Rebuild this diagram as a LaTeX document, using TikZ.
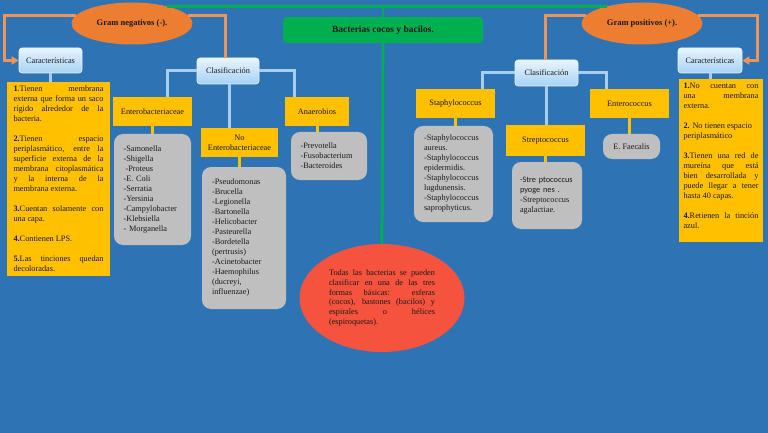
\documentclass[tikz,border=0pt]{standalone}
\usepackage{fontspec}
\setmainfont{Liberation Serif}
\newfontfamily\glitchfont{Carlito}
\usetikzlibrary{shapes.geometric,arrows.meta,calc}
\definecolor{bg}{HTML}{2E74B5}
\definecolor{ylw}{HTML}{FFC000}
\definecolor{gry}{HTML}{BFBFBF}
\definecolor{grn}{HTML}{00B050}
\definecolor{org}{HTML}{ED7D31}
\definecolor{orgline}{HTML}{EE9458}
\definecolor{redel}{HTML}{F5533D}
\definecolor{lbline}{HTML}{A9CDEC}
\definecolor{lbtop}{HTML}{E8F4FD}
\definecolor{lbbot}{HTML}{A5D2F6}
\definecolor{ink}{HTML}{1A1A1A}
\begin{document}
\begin{tikzpicture}[x=1pt,y=-1pt,
  txt/.style={font=\fontsize{8.3}{10}\selectfont, text=ink},
  ybox/.style={txt, fill=ylw, inner sep=0pt, align=center},
  gbase/.style={txt, fill=gry, rounded corners=9pt, inner ysep=0pt},
  gbox/.style={gbase, inner xsep=9.5pt, align=left},
  lbbox/.style={txt, rounded corners=3pt, top color=lbtop, bottom color=lbbot, draw=lbtop, line width=0.6pt, inner sep=0pt, minimum height=25pt},
  oline/.style={draw=orgline, line width=3pt},
  bline/.style={draw=lbline, line width=3pt},
  yline/.style={draw=ylw, line width=3pt},
  gline/.style={draw=grn, line width=2.7pt},
  otip/.style={-{Triangle[length=7pt,width=8pt]}},
  gram/.style={ellipse, fill=org, inner sep=0pt, minimum width=121pt, minimum height=42pt, font=\bfseries\fontsize{8.5}{10}\selectfont, text=ink},
]
\useasboundingbox (0,0) rectangle (768,433);
\fill[bg] (0,0) rectangle (768,433);

% top level
\node[gram] (negE) at (132,23.5) {Gram negativos (-).};
\node[gram] (posE) at (642,23.5) {Gram positivos (+).};
\node[fill=grn, rounded corners=4pt, minimum width=200pt, minimum height=26pt, inner sep=0pt,
      font=\bfseries\fontsize{9.5}{11}\selectfont, text=ink] (title) at (383,30) {Bacterias cocos y bacilos.};
\node[ellipse, fill=redel, minimum width=165pt, minimum height=108pt, inner sep=0pt,
      font=\fontsize{8.3}{9.7}\selectfont, text=ink, text width=106pt, align=justify] (redE) at (382,298)
  {Todas las bacterias se pueden\linebreak clasificar en una de las tres\linebreak formas básicas: esferas\linebreak (cocos), bastones (bacilos) y\linebreak espirales o hélices\linebreak (espiroquetas).};

% light blue boxes
\node[lbbox, minimum width=63pt] (carL) at (50.5,60.5) {Características};
\node[lbbox, minimum width=64pt] (carR) at (710,60.5) {Características};
\node[lbbox, minimum width=62pt, minimum height=26pt] (claL) at (228,71) {Clasificación};
\node[lbbox, minimum width=63pt, minimum height=26pt] (claR) at (546.5,73) {Clasificación};

% characteristic boxes
\node[ybox, text width=90pt, minimum width=103pt, minimum height=194pt, align=justify] (charL) at (58.5,179)
  {\parindent=0pt\parskip=10pt
   \textbf{1}.Tienen membrana\linebreak externa que forma un saco\linebreak rígido alrededor de la\linebreak bacteria.\par
   \textbf{2.}Tienen espacio\linebreak periplasmático, entre la\linebreak superficie externa de la\linebreak membrana citoplasmática\linebreak y la interna de la\linebreak membrana externa.\par
   \textbf{3.}Cuentan solamente con\linebreak una capa.\par
   \textbf{4.}Contienen LPS.\par
   \textbf{5.}Las tinciones quedan\linebreak decoloradas.\par};
\node[ybox, text width=75pt, minimum width=84pt, minimum height=163pt, align=justify] (charR) at (721,160.5)
  {\parindent=0pt\parskip=10pt
   \textbf{1.}No cuentan con\linebreak una membrana\linebreak externa.\par
   \textbf{2.} No tienen espacio\newline periplasmático\par
   \textbf{3.}Tienen una red de\linebreak mureína que está\linebreak bien desarrollada y\linebreak puede llegar a tener\linebreak hasta 40 capas.\par
   \textbf{4.}Retienen la tinción\linebreak azul.\par\vspace{10pt}};

% yellow category boxes
\node[ybox, minimum width=79pt, minimum height=29pt] (entero) at (152.5,111.5) {Enterobacteriaceae};
\node[ybox, minimum width=64pt, minimum height=29pt] (anaer) at (317,111.5) {Anaerobios};
\node[ybox, minimum width=77pt, minimum height=29pt] (noent) at (239.5,142.5) {No\\Enterobacteriaceae};
\node[ybox, minimum width=79pt, minimum height=29pt] (staph) at (455.5,103.5) {Staphylococcus};
\node[ybox, minimum width=79pt, minimum height=31pt] (strep) at (545.5,140.5) {Streptococcus};
\node[ybox, minimum width=79pt, minimum height=29pt] (enteroc) at (629.5,103.5) {Enterococcus};

% grey lists
\node[gbox, text width=58pt, minimum height=111pt] (greyEnt) at (152.5,189.5)
  {-Samonella\\-Shigella\\\hspace*{2pt}-Proteus\\-E. Coli\\-Serratia\\-Yersinia\\-Campylobacter\\-Klebsiella\\- Morganella};
\node[gbox, text width=57pt, inner xsep=9.5pt, minimum height=48pt] (greyAna) at (329,156)
  {-Prevotella\\-Fusobacterium\\-Bacteroides};
\node[gbox, text width=64pt, inner xsep=10pt, minimum height=142pt] (greyNo) at (244,238)
  {-Pseudomonas\\-Brucella\\-Legionella\\-Bartonella\\-Helicobacter\\-Pasteurella\\-Bordetella\\(pertrusis)\\-Acinetobacter\\-Haemophilus\\(ducreyi,\\influenzae)};
\node[gbox, text width=59pt, inner xsep=10pt, minimum height=96pt] (greyStaph) at (453.5,174)
  {-Staphylococcus\\aureus.\\-Staphylococcus\\epidermidis.\\-Staphylococcus\\lugdunensis.\\-Staphylococcus\\saprophyticus.};
\node[gbox, text width=54pt, inner xsep=8pt, minimum height=67pt] (greyStrep) at (547,195.5)
  {\mbox{\glitchfont -Stre ptococcus}\\\mbox{\glitchfont pyoge nes .}\\-Streptococcus\\agalactiae.};
\node[gbase, minimum width=57pt, minimum height=25pt, inner xsep=0pt] (greyFae) at (631.5,146.5) {E. Faecalis};

% green connectors
\draw[gline] (negE.26) -- (posE.154);
\draw[gline] (title.north) -- (title.north |- negE.26);
\draw[gline] (title.south) -- (redE.north);

% orange connectors
\draw[oline, otip] (negE.172) -| ($(carL.west)+(-14,0)$) -- (carL.west);
\draw[oline] (negE.8) -| ($(claL.north)+(-3,0)$);
\draw[oline, otip] (posE.8) -| ($(carR.east)+(15,0)$) -- (carR.east);
\draw[oline] (posE.172) -| ($(claR.north)+(-1.5,0)$);

% light blue connectors
\draw[bline] (carL.south) -- (carL.south |- charL.north);
\draw[bline] (carR.south) -- (carR.south |- charR.north);
\draw[bline] (claL.west) -| ($(entero.north)+(14.5,0)$);
\draw[bline] (claL.east) -| ($(anaer.north)+(-23,0)$);
\draw[bline] ($(claL.south)+(1,0)$) -- ($(claL.south |- noent.north)+(1,0)$);
\draw[bline] (claR.west) -| ($(staph.north)+(27,0)$);
\draw[bline] (claR.east) -| ($(enteroc.north)+(-23.5,0)$);
\draw[bline] (claR.south) -- (claR.south |- strep.north);

% yellow connectors
\draw[yline] (entero.south) -- (entero.south |- greyEnt.north);
\draw[yline] (anaer.south) -- (anaer.south |- greyAna.north);
\draw[yline] (noent.south) -- (noent.south |- greyNo.north);
\draw[yline] (staph.south) -- (staph.south |- greyStaph.north);
\draw[yline] (strep.south) -- (strep.south |- greyStrep.north);
\draw[yline] (enteroc.south) -- (enteroc.south |- greyFae.north);
\end{tikzpicture}
\end{document}
